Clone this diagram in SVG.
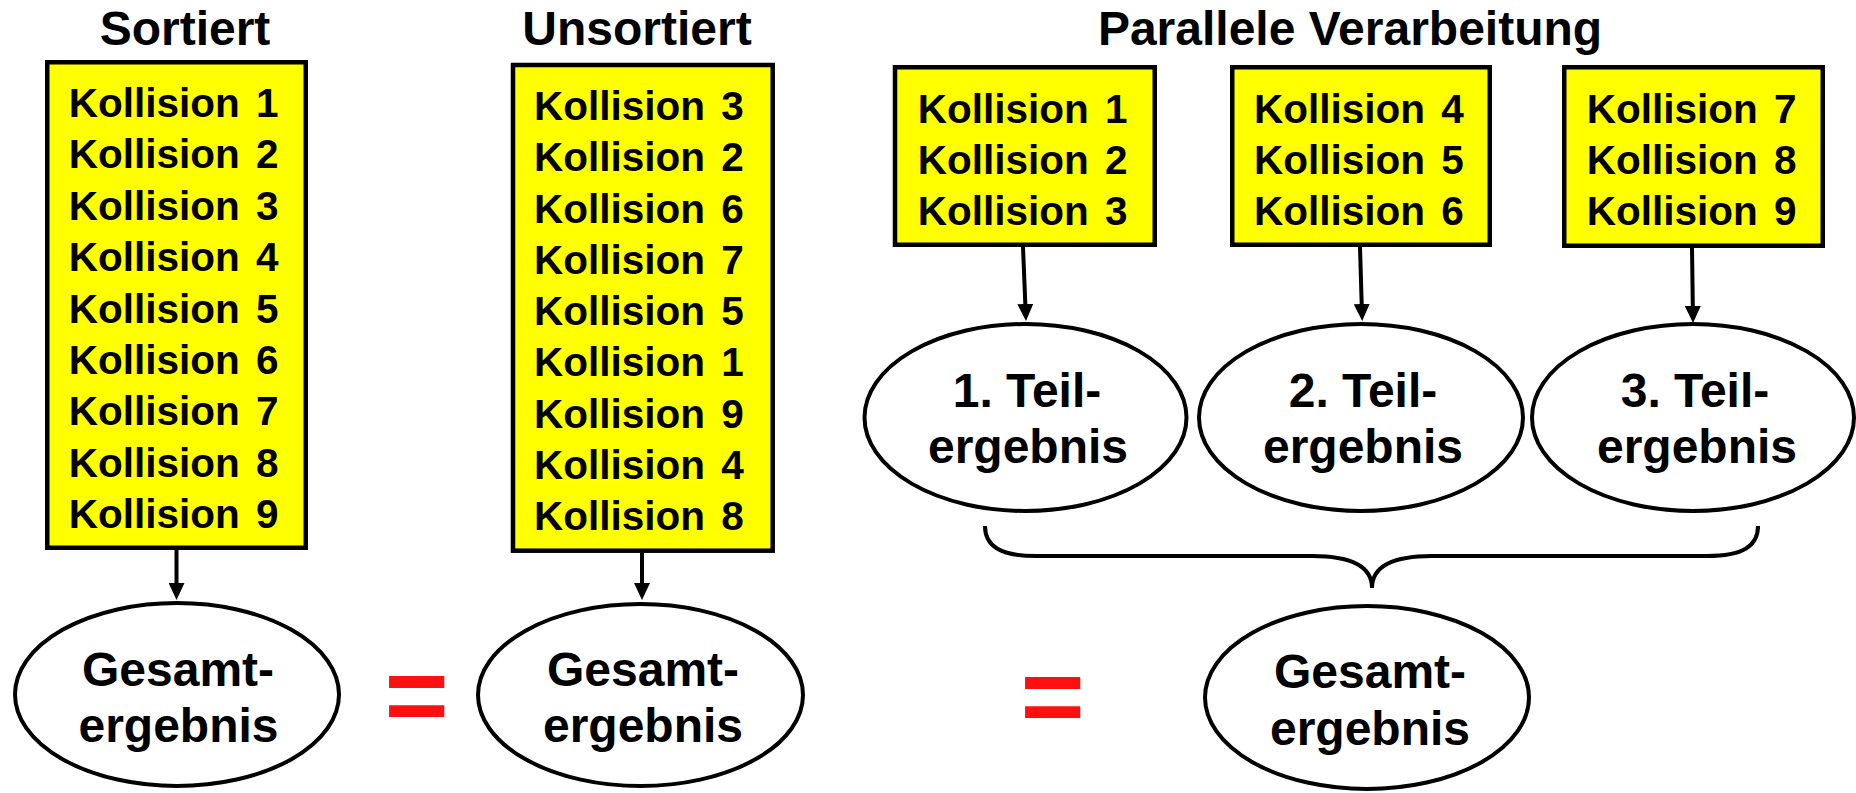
<svg xmlns="http://www.w3.org/2000/svg" width="1856" height="793" viewBox="0 0 1856 793">
<defs>
<style>
text{font-family:"Liberation Sans",Arial,Helvetica,sans-serif;font-weight:bold;fill:#000}
.title{font-size:48px;text-anchor:middle}
.k{font-size:40.5px;word-spacing:5px}
.e{font-size:48px;text-anchor:middle}
.eq{font-size:110px;text-anchor:middle;fill:#FF1010}
.box{fill:#FFFF00;stroke:#000;stroke-width:4.5}
.ell{fill:#fff;stroke:#000;stroke-width:4}
.con{fill:none;stroke:#000;stroke-width:4}
</style>
<marker id="ah" viewBox="0 -8 17 16" refX="7" refY="0" markerWidth="17" markerHeight="16" markerUnits="userSpaceOnUse" orient="auto">
<path d="M0,-8 L17,0 L0,8 z" fill="#000"/>
</marker>
</defs>
<rect width="1856" height="793" fill="#fff"/>

<g id="titles">
<text class="title" x="185" y="45">Sortiert</text>
<text class="title" x="637" y="45">Unsortiert</text>
<text class="title" x="1350" y="45">Parallele Verarbeitung</text>
</g>

<g id="sortiert">
<rect class="box" x="47.25" y="62.25" width="258.5" height="485.5"/>
<text class="k" x="68.8" y="117">Kollision 1</text>
<text class="k" x="68.8" y="168.4">Kollision 2</text>
<text class="k" x="68.8" y="219.8">Kollision 3</text>
<text class="k" x="68.8" y="271.2">Kollision 4</text>
<text class="k" x="68.8" y="322.6">Kollision 5</text>
<text class="k" x="68.8" y="374">Kollision 6</text>
<text class="k" x="68.8" y="425.4">Kollision 7</text>
<text class="k" x="68.8" y="476.8">Kollision 8</text>
<text class="k" x="68.8" y="528.2">Kollision 9</text>
</g>

<g id="unsortiert">
<rect class="box" x="513" y="65" width="259.7" height="485.7"/>
<text class="k" x="534" y="120">Kollision 3</text>
<text class="k" x="534" y="171.3">Kollision 2</text>
<text class="k" x="534" y="222.5">Kollision 6</text>
<text class="k" x="534" y="273.8">Kollision 7</text>
<text class="k" x="534" y="325">Kollision 5</text>
<text class="k" x="534" y="376.3">Kollision 1</text>
<text class="k" x="534" y="427.5">Kollision 9</text>
<text class="k" x="534" y="478.8">Kollision 4</text>
<text class="k" x="534" y="530">Kollision 8</text>
</g>

<g id="gruppe1">
<rect class="box" x="895" y="67.25" width="259.75" height="177.5"/>
<text class="k" x="917.7" y="122.5">Kollision 1</text>
<text class="k" x="917.7" y="173.5">Kollision 2</text>
<text class="k" x="917.7" y="224.5">Kollision 3</text>
</g>
<g id="gruppe2">
<rect class="box" x="1232.25" y="67.25" width="257.5" height="177.5"/>
<text class="k" x="1254" y="122.5">Kollision 4</text>
<text class="k" x="1254" y="173.5">Kollision 5</text>
<text class="k" x="1254" y="224.5">Kollision 6</text>
</g>
<g id="gruppe3">
<rect class="box" x="1564.25" y="67.25" width="258.5" height="178.5"/>
<text class="k" x="1586.7" y="122.5">Kollision 7</text>
<text class="k" x="1586.7" y="173.5">Kollision 8</text>
<text class="k" x="1586.7" y="224.5">Kollision 9</text>
</g>

<g id="teil1">
<ellipse class="ell" cx="1025.5" cy="417.5" rx="161" ry="93.5"/>
<text class="e" x="1027" y="407">1. Teil-</text>
<text class="e" x="1028" y="463">ergebnis</text>
</g>
<g id="teil2">
<ellipse class="ell" cx="1361" cy="417.5" rx="162" ry="93.5"/>
<text class="e" x="1363" y="407">2. Teil-</text>
<text class="e" x="1363" y="463">ergebnis</text>
</g>
<g id="teil3">
<ellipse class="ell" cx="1693" cy="417.5" rx="161" ry="93.5"/>
<text class="e" x="1695" y="407">3. Teil-</text>
<text class="e" x="1697" y="463">ergebnis</text>
</g>

<g id="gesamt1">
<ellipse class="ell" cx="177" cy="694.5" rx="162" ry="91.5"/>
<text class="e" x="178" y="686">Gesamt-</text>
<text class="e" x="178.5" y="742">ergebnis</text>
</g>
<g id="gesamt2">
<ellipse class="ell" cx="640.5" cy="695" rx="162.5" ry="91"/>
<text class="e" x="643" y="686">Gesamt-</text>
<text class="e" x="643" y="742">ergebnis</text>
</g>
<g id="gesamt3">
<ellipse class="ell" cx="1367" cy="697.5" rx="162" ry="91.5"/>
<text class="e" x="1370" y="688">Gesamt-</text>
<text class="e" x="1370" y="745">ergebnis</text>
</g>

<g id="gleich">
<text class="eq" x="416.5" y="733">=</text>
<text class="eq" x="1052.5" y="734">=</text>
</g>

<g id="connectors">
<line class="con" x1="176.5" y1="550" x2="176.5" y2="590" marker-end="url(#ah)"/>
<line class="con" x1="642" y1="553" x2="642" y2="590" marker-end="url(#ah)"/>
<line class="con" x1="1023" y1="247" x2="1025.6" y2="311" marker-end="url(#ah)"/>
<line class="con" x1="1360" y1="247" x2="1361.9" y2="311" marker-end="url(#ah)"/>
<line class="con" x1="1692" y1="248" x2="1692.9" y2="313" marker-end="url(#ah)"/>
<path class="con" d="M985,526 C985,546 1000,556 1036,556 L1312,556 C1350,556 1372,566 1372,588 C1372,566 1394,556 1432,556 L1707,556 C1743,556 1758,546 1758,526"/>
</g>
</svg>
